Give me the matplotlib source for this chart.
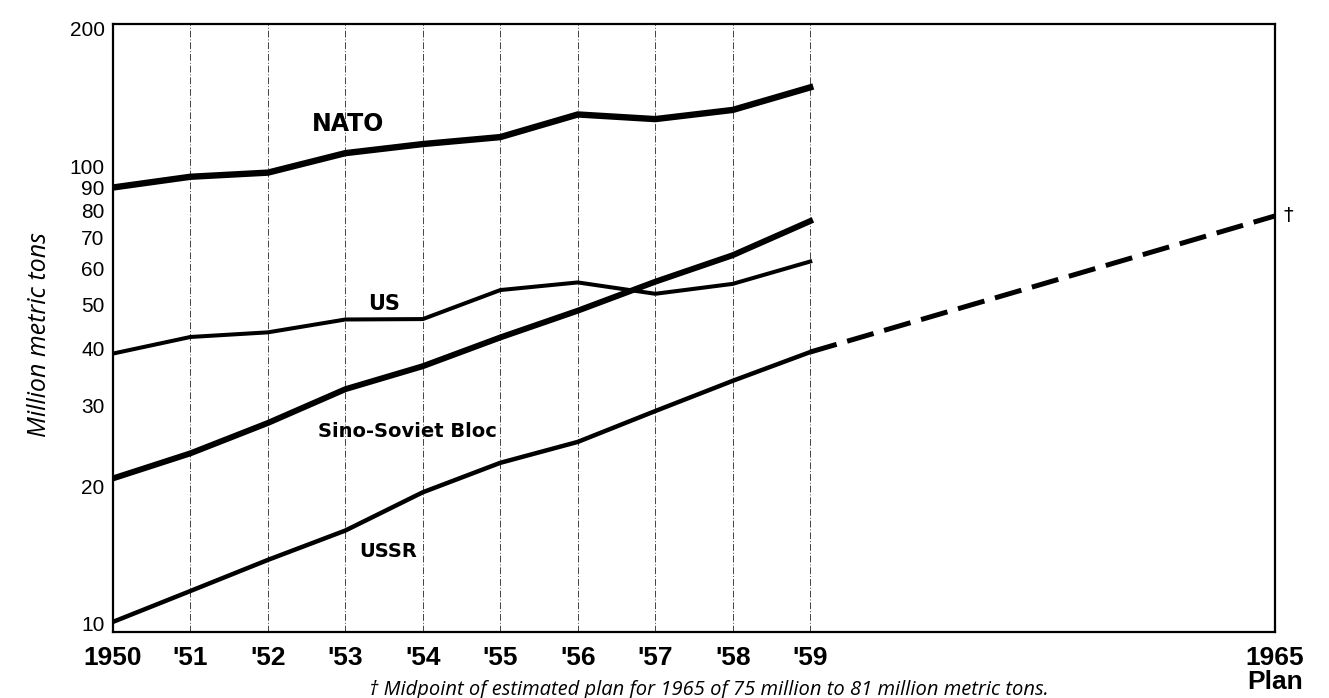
import matplotlib
matplotlib.use('Agg')
import matplotlib.pyplot as plt
from matplotlib.ticker import FixedLocator, NullLocator

# Steel output, million metric tons
YEARS = [1950, 1951, 1952, 1953, 1954, 1955, 1956, 1957, 1958, 1959]
NATO = [90, 95, 97, 107, 112, 116, 130, 127, 133, 149]
US = [39, 42.4, 43.4, 46.3, 46.4, 53.7, 55.8, 52.7, 55.4, 62]
SINO_SOVIET = [20.8, 23.6, 27.5, 32.6, 36.6, 42.3, 48.4, 56, 64, 76]
USSR = [10.1, 11.8, 13.8, 16.0, 19.4, 22.5, 25.0, 29.2, 34.0, 39.3]

# USSR plan: midpoint of 75-81 million tons for 1965
PLAN_YEARS = [1959, 1965]
PLAN_USSR = [39.3, 78]

X_TICKS = [1950, 1951, 1952, 1953, 1954, 1955, 1956, 1957, 1958, 1959, 1965]
X_LABELS = ["1950", "'51", "'52", "'53", "'54", "'55", "'56", "'57", "'58", "'59", "1965\nPlan"]
Y_TICKS = [10, 20, 30, 40, 50, 60, 70, 80, 90, 100, 200]

BOLD = ['DejaVu Sans']
NARROW = ['Liberation Sans', 'DejaVu Sans']
ITALIC = ['Open Sans', 'DejaVu Sans']

fig = plt.figure(figsize=(13.29, 6.98), dpi=100)
ax = fig.add_axes([0.085, 0.0946, 0.8744, 0.871])

ax.set_yscale('log')
ax.set_xlim(1950, 1965)
ax.set_ylim(9.6, 205)

# vertical year rules
for yr in YEARS[1:]:
    ax.axvline(yr, color='#444444', lw=0.7, ls=(0, (7, 2, 1, 2)), zorder=1)

ax.plot(YEARS, NATO, color='black', lw=4.6, solid_joinstyle='miter', zorder=3)
ax.plot(YEARS, SINO_SOVIET, color='black', lw=4.3, solid_joinstyle='miter', zorder=3)
ax.plot(YEARS, US, color='black', lw=2.9, solid_joinstyle='miter', zorder=3)
ax.plot(YEARS, USSR, color='black', lw=3.2, solid_joinstyle='miter', zorder=3)
ax.plot(PLAN_YEARS, PLAN_USSR, color='black', lw=3.6, ls=(0, (5.5, 2.2)), zorder=3)

ax.annotate('†', (PLAN_YEARS[-1], PLAN_USSR[-1]), xytext=(6, 0),
            textcoords='offset points', ha='left', va='center',
            fontsize=14, annotation_clip=False)

# series labels
ax.text(1953.03, 124, 'NATO', fontsize=17, fontweight='bold', family=BOLD,
        ha='center', va='center')
ax.text(1953.5, 50, 'US', fontsize=15, fontweight='bold', family=BOLD,
        ha='center', va='center')
ax.text(1953.8, 26.3, 'Sino-Soviet Bloc', fontsize=14, fontweight='bold', family=BOLD,
        ha='center', va='center')
ax.text(1953.55, 14.4, 'USSR', fontsize=14, fontweight='bold', family=BOLD,
        ha='center', va='center')

ax.yaxis.set_major_locator(FixedLocator(Y_TICKS))
ax.yaxis.set_minor_locator(NullLocator())
ax.set_yticklabels([str(v) for v in Y_TICKS], family=NARROW, fontsize=15)
ax.set_xticks(X_TICKS)
ax.set_xticklabels(X_LABELS, family=NARROW, fontsize=19, fontweight='bold',
                   linespacing=1.0)
ax.tick_params(axis='both', length=0)
ax.tick_params(axis='x', pad=10)
ax.tick_params(axis='y', pad=6)

for side in ['left', 'right', 'top', 'bottom']:
    ax.spines[side].set_color('black')
    ax.spines[side].set_linewidth(1.6)

fig.text(40 / 1329, 1 - 335 / 698, 'Million metric tons', rotation=90,
         ha='center', va='center', fontsize=18, style='italic', family=ITALIC)
fig.text(709 / 1329, 1 - 690 / 698,
         '† Midpoint of estimated plan for 1965 of 75 million to 81 million metric tons.',
         ha='center', va='center', fontsize=14.5, style='italic', family=ITALIC)

fig.savefig('out.png', dpi=100, facecolor='white')
